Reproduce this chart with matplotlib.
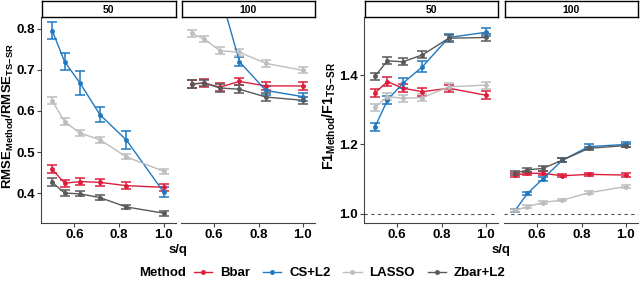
import matplotlib
matplotlib.use("Agg")
import matplotlib.pyplot as plt
from matplotlib.lines import Line2D

plt.rcParams["font.family"] = ["Liberation Sans", "DejaVu Sans"]
plt.rcParams["font.weight"] = "bold"
plt.rcParams["mathtext.fontset"] = "custom"
plt.rcParams["mathtext.rm"] = "Liberation Sans:bold"
plt.rcParams["mathtext.default"] = "rm"

# s/q values (5/10 ... 5/5)
s_q = [0.5, 0.556, 0.625, 0.714, 0.833, 1.0]
methods = ["Bbar", "CS+L2", "LASSO", "Zbar+L2"]
colors = {"Bbar": "#DC1E3C", "CS+L2": "#1F78C1", "LASSO": "#BDBDBD", "Zbar+L2": "#595959"}

# RMSE ratio, q = 50
rmse_50 = {
    "Bbar":    [0.458, 0.424, 0.428, 0.426, 0.418, 0.414],
    "CS+L2":   [0.796, 0.720, 0.668, 0.591, 0.529, 0.402],
    "LASSO":   [0.625, 0.574, 0.546, 0.530, 0.488, 0.453],
    "Zbar+L2": [0.426, 0.400, 0.398, 0.389, 0.366, 0.351],
}
rmse_50_err = {
    "Bbar":    [0.010, 0.009, 0.009, 0.009, 0.008, 0.008],
    "CS+L2":   [0.020, 0.021, 0.030, 0.019, 0.021, 0.012],
    "LASSO":   [0.008, 0.008, 0.007, 0.007, 0.006, 0.006],
    "Zbar+L2": [0.010, 0.007, 0.006, 0.007, 0.005, 0.006],
}
# RMSE ratio, q = 100
rmse_100 = {
    "Bbar":    [0.666, 0.668, 0.658, 0.672, 0.661, 0.661],
    "CS+L2":   [1.050, 0.970, 0.890, 0.720, 0.650, 0.635],
    "LASSO":   [0.789, 0.775, 0.747, 0.743, 0.716, 0.699],
    "Zbar+L2": [0.666, 0.668, 0.656, 0.653, 0.634, 0.626],
}
rmse_100_err = {
    "Bbar":    [0.009, 0.009, 0.010, 0.009, 0.010, 0.009],
    "CS+L2":   [0.015, 0.015, 0.015, 0.011, 0.010, 0.010],
    "LASSO":   [0.008, 0.008, 0.008, 0.009, 0.009, 0.007],
    "Zbar+L2": [0.009, 0.008, 0.010, 0.010, 0.010, 0.008],
}
# F1 ratio, q = 50
f1_50 = {
    "Bbar":    [1.349, 1.381, 1.362, 1.352, 1.362, 1.342],
    "CS+L2":   [1.251, 1.328, 1.376, 1.424, 1.508, 1.523],
    "LASSO":   [1.307, 1.338, 1.333, 1.335, 1.366, 1.371],
    "Zbar+L2": [1.397, 1.441, 1.438, 1.458, 1.506, 1.508],
}
f1_50_err = {
    "Bbar":    [0.012, 0.012, 0.012, 0.012, 0.010, 0.012],
    "CS+L2":   [0.012, 0.012, 0.014, 0.016, 0.010, 0.012],
    "LASSO":   [0.010, 0.010, 0.010, 0.010, 0.010, 0.010],
    "Zbar+L2": [0.010, 0.010, 0.010, 0.010, 0.010, 0.010],
}
# F1 ratio, q = 100
f1_100 = {
    "Bbar":    [1.112, 1.117, 1.117, 1.110, 1.114, 1.112],
    "CS+L2":   [1.010, 1.059, 1.101, 1.155, 1.194, 1.200],
    "LASSO":   [1.010, 1.021, 1.033, 1.040, 1.061, 1.079],
    "Zbar+L2": [1.117, 1.127, 1.131, 1.155, 1.189, 1.197],
}
f1_100_err = {
    "Bbar":    [0.006, 0.005, 0.006, 0.005, 0.005, 0.005],
    "CS+L2":   [0.005, 0.005, 0.006, 0.005, 0.006, 0.006],
    "LASSO":   [0.004, 0.004, 0.004, 0.004, 0.004, 0.005],
    "Zbar+L2": [0.006, 0.006, 0.006, 0.005, 0.005, 0.005],
}

W, H = 640, 284
fig = plt.figure(figsize=(W / 100, H / 100), dpi=100)


def px_axes(x0, x1, y0, y1):
    return fig.add_axes([x0 / W, 1 - y1 / H, (x1 - x0) / W, (y1 - y0) / H])


panels = [
    ((41, 176), "50", rmse_50, rmse_50_err, (0.327, 0.829), [0.4, 0.5, 0.6, 0.7, 0.8], True, False),
    ((181, 315), "100", rmse_100, rmse_100_err, (0.327, 0.829), None, False, False),
    ((364, 498), "50", f1_50, f1_50_err, (0.974, 1.567), [1.0, 1.2, 1.4], True, True),
    ((504, 638), "100", f1_100, f1_100_err, (0.974, 1.567), None, False, True),
]

for (x0, x1), strip, means, errs, ylim, yticks, first, hline in panels:
    ax = px_axes(x0, x1, 17, 223)
    if hline:
        ax.axhline(1.0, color="#555555", linestyle=(0, (3, 3)), linewidth=0.8, zorder=1)
    for m in methods:
        ax.errorbar(s_q, means[m], yerr=errs[m], color=colors[m], linewidth=1.0,
                    elinewidth=1.1, capsize=3.6, capthick=1.1, marker="o", markersize=2.5)
    ax.set_xlim(0.45, 1.055)
    ax.set_ylim(*ylim)
    ax.set_xticks([0.6, 0.8, 1.0])
    ax.set_xticklabels(["0.6", "0.8", "1.0"])
    for s in ("top", "right"):
        ax.spines[s].set_visible(False)
    ax.spines["bottom"].set_color("#444444")
    ax.spines["left"].set_color("#444444")
    ax.tick_params(axis="both", length=3, width=0.8, color="#444444",
                   labelsize=9.6, labelcolor="black", pad=1.5)
    if first:
        ax.set_yticks(yticks)
        ax.set_yticklabels([f"{v:.1f}" for v in yticks])
    else:
        ax.spines["left"].set_visible(False)
        ax.set_yticks([])
    for lab in ax.get_xticklabels() + ax.get_yticklabels():
        lab.set_fontweight("bold")

    sax = px_axes(x0 + 0.5, x1 - 0.5, 1, 17)
    sax.set_xticks([])
    sax.set_yticks([])
    for sp in sax.spines.values():
        sp.set_color("black")
        sp.set_linewidth(1.0)
    sax.text(0.5, 0.45, strip, ha="center", va="center", fontsize=7.5,
             fontweight="bold", transform=sax.transAxes)

fig.text(8.2 / W, 1 - 116 / H, r"RMSE$_{Method}$/RMSE$_{TS\!-\!SR}$", rotation=90,
         ha="center", va="center", fontsize=9.5, fontweight="bold")
fig.text(329 / W, 1 - 116 / H, r"F1$_{Method}$/F1$_{TS\!-\!SR}$", rotation=90,
         ha="center", va="center", fontsize=10.3, fontweight="bold")
fig.text(178 / W, 1 - 250 / H, "s/q", ha="center", va="center", fontsize=9.5, fontweight="bold")
fig.text(501 / W, 1 - 250 / H, "s/q", ha="center", va="center", fontsize=9.5, fontweight="bold")

fig.text(163 / W, 1 - 273 / H, "Method", ha="center", va="center", fontsize=9.5, fontweight="bold")
handles = [Line2D([], [], color=colors[m], linewidth=1.0, marker="o", markersize=2.5) for m in methods]
fig.legend(handles, methods, loc="center left", bbox_to_anchor=(194 / W, 1 - 273 / H),
           ncol=4, frameon=False, fontsize=9.5, handlelength=1.4, handletextpad=0.6,
           columnspacing=0.95, borderaxespad=0, borderpad=0)

fig.savefig("out.png", dpi=100)
